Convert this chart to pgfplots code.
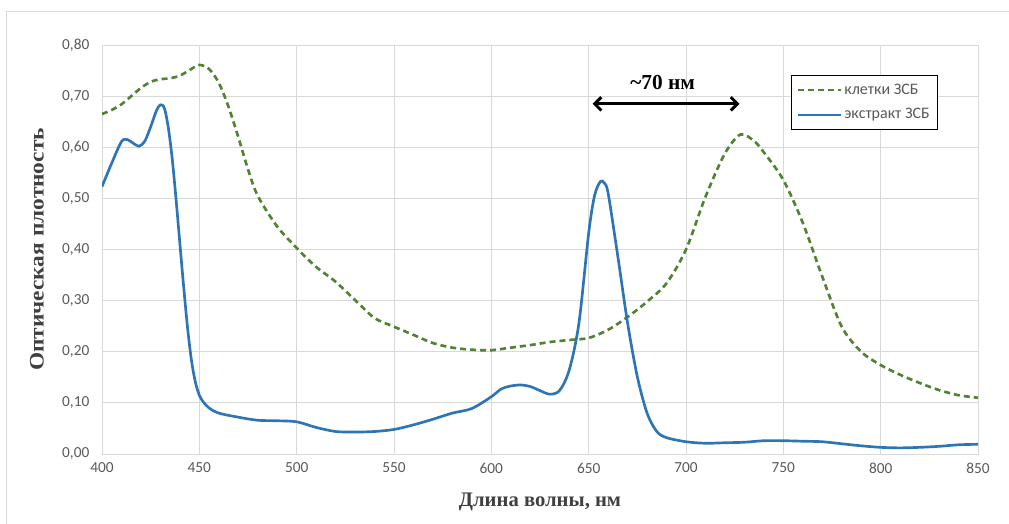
\documentclass[border=0pt]{standalone}
\usepackage{pgfplots}
\pgfplotsset{compat=1.18}
\usepackage{fontspec}
\setmainfont{Carlito}
\newfontfamily\timesfont{Liberation Serif}
\usetikzlibrary{arrows.meta}
\definecolor{grn}{RGB}{84,130,53}
\definecolor{blu}{RGB}{46,117,182}
\definecolor{tickgray}{RGB}{89,89,89}
\definecolor{gridgray}{RGB}{217,217,217}
\definecolor{labgray}{RGB}{64,64,64}
\begin{document}
\begin{tikzpicture}
\begin{axis}[
  at={(0,0)}, anchor=south west,
  scale only axis, width=657pt, height=306.75pt,
  xmin=400, xmax=850, ymin=0, ymax=0.8,
  xtick={400,450,500,550,600,650,700,750,800,850},
  ytick={0,0.1,0.2,0.3,0.4,0.5,0.6,0.7,0.8},
  grid=major, grid style={gridgray, line width=0.75pt},
  axis line style={gridgray, line width=0.75pt},
  major tick length=0pt,
  /pgf/number format/assume math mode=true,
  tick label style={font=\fontsize{11.5}{13}\selectfont, text=tickgray},
  yticklabel={\pgfmathprintnumber[fixed,fixed zerofill,precision=2,use comma,assume math mode=true]{\tick}},
  y tick label style={xshift=-6pt},
  x tick label style={yshift=-3pt},
  xlabel={Длина волны, нм},
  ylabel={\scalebox{1.13}[1]{Оптическая плотность}},
  xlabel style={font=\timesfont\bfseries\fontsize{15.5}{17}\selectfont, text=labgray, at={(axis description cs:0.5,-0.117)}, anchor=center},
  ylabel style={font=\timesfont\bfseries\fontsize{15.5}{17}\selectfont, text=labgray, at={(axis description cs:-0.0742,0.5)}, anchor=center},
  legend style={at={(rel axis cs:0.787,0.927)}, anchor=north west, draw=black, line width=0.75pt, fill=white,
    font=\fontsize{12}{14}\selectfont, text=tickgray, inner xsep=4pt, inner ysep=4.5pt, row sep=5pt, cells={anchor=west}},
  legend image code/.code={\draw[#1, line width=1.5pt] (0cm,0cm) -- (1.12cm,0cm);},
]
\addplot[grn, line width=2pt, dash pattern=on 4.5pt off 3pt, smooth] coordinates {
(400,0.665)(405,0.673)(410,0.684)(415,0.700)(420,0.716)(425,0.728)(430,0.733)(435,0.735)(440,0.740)(445,0.751)(450,0.761)(455,0.753)(460,0.726)(465,0.679)(470,0.620)(475,0.557)(480,0.505)(490,0.445)(500,0.403)(510,0.366)(520,0.337)(530,0.301)(540,0.266)(550,0.249)(560,0.233)(570,0.217)(580,0.208)(590,0.204)(600,0.203)(610,0.208)(620,0.213)(630,0.219)(640,0.223)(650,0.227)(660,0.243)(670,0.268)(680,0.298)(690,0.334)(700,0.400)(710,0.503)(720,0.588)(728,0.625)(735,0.612)(740,0.590)(750,0.536)(760,0.452)(770,0.347)(780,0.249)(790,0.200)(800,0.174)(810,0.155)(820,0.139)(830,0.125)(840,0.115)(850,0.110)
};
\addlegendentry{клетки ЗСБ}
\addplot[blu, line width=2pt, smooth] coordinates {
(400,0.523)(405,0.569)(410,0.611)(413,0.615)(416,0.608)(419,0.602)(422,0.612)(425,0.640)(428,0.672)(430,0.683)(432,0.677)(434,0.640)(436,0.580)(438,0.500)(440,0.412)(442,0.325)(444,0.245)(446,0.182)(448,0.140)(450,0.115)(452,0.102)(455,0.090)(460,0.080)(470,0.072)(480,0.066)(490,0.065)(500,0.063)(510,0.052)(520,0.044)(530,0.043)(540,0.044)(550,0.048)(560,0.057)(570,0.068)(580,0.080)(590,0.089)(600,0.112)(605,0.127)(610,0.133)(615,0.135)(620,0.132)(625,0.124)(630,0.117)(635,0.124)(640,0.164)(645,0.256)(650,0.432)(653,0.505)(656,0.533)(658,0.530)(660,0.510)(665,0.386)(670,0.256)(675,0.151)(680,0.080)(685,0.044)(690,0.032)(700,0.024)(710,0.021)(720,0.022)(730,0.023)(740,0.026)(750,0.026)(760,0.025)(770,0.024)(780,0.020)(790,0.016)(800,0.013)(810,0.012)(820,0.013)(830,0.015)(840,0.018)(850,0.019)
};
\addlegendentry{экстракт ЗСБ}
\draw[line width=2.2pt, {Straight Barb[length=5pt,width=10pt]}-{Straight Barb[length=5pt,width=10pt]}] (axis cs:652,0.685) -- (axis cs:727.5,0.685);
\node[font=\timesfont\bfseries\fontsize{16}{18}\selectfont] at (axis cs:688,0.726) {\textasciitilde70 нм};
\end{axis}
\pgfresetboundingbox
\useasboundingbox (-76.5pt,-52.5pt) rectangle (680.25pt,340.5pt);
\draw[gridgray, line width=0.75pt] (-71.25pt,-52.5pt) -- (-71.25pt,331.5pt) -- (680.25pt,331.5pt);
\end{tikzpicture}
\end{document}
